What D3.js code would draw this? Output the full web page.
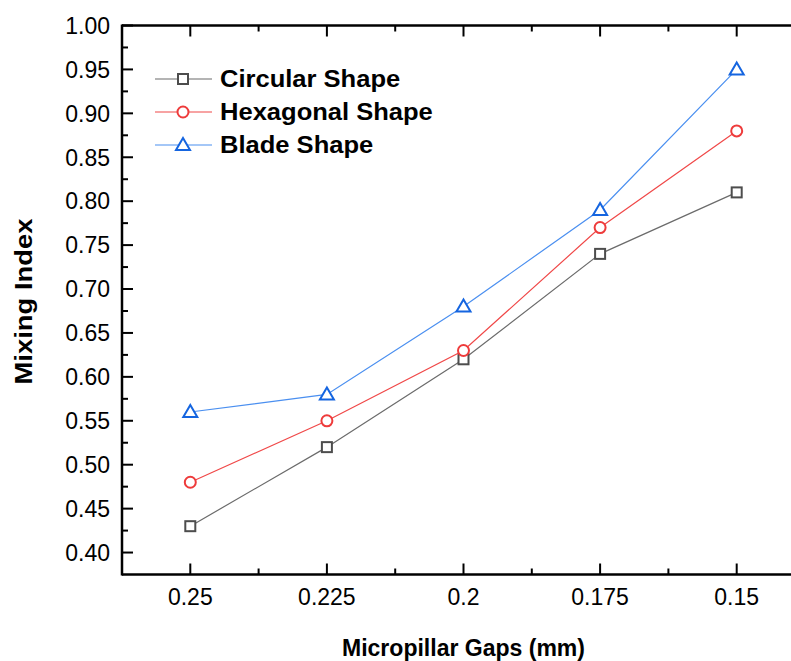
<!DOCTYPE html>
<html lang="en">
<head>
<meta charset="utf-8">
<title>Mixing Index</title>
<script src="https://d3js.org/d3.v7.min.js"></script>
<style>
  body { margin: 0; background: #fff; }
  text { font-family: "Liberation Sans", Arial, sans-serif; }
</style>
</head>
<body>
<script>
// data
var gaps = ["0.25", "0.225", "0.2", "0.175", "0.15"];
var circular = [0.43, 0.52, 0.62, 0.74, 0.81];
var hexagonal = [0.48, 0.55, 0.63, 0.77, 0.88];
var blade = [0.56, 0.58, 0.68, 0.79, 0.95];
var yTicks = [0.40, 0.45, 0.50, 0.55, 0.60, 0.65, 0.70, 0.75, 0.80, 0.85, 0.90, 0.95, 1.00];

var series = [
  {name: "Circular Shape", values: circular, line: "#6b6b6b", mark: "#4d4d4d", shape: "square"},
  {name: "Hexagonal Shape", values: hexagonal, line: "#f04848", mark: "#ee3b3b", shape: "circle"},
  {name: "Blade Shape", values: blade, line: "#4a8ff0", mark: "#1565e0", shape: "triangle"}
];

var W = 791, H = 661;
var mLeft = 122, mTop = 25.5, mBottom = 574.5, mRight = 805;

var svg = d3.select("body").append("svg")
  .attr("width", W).attr("height", H);

var x = d3.scaleLinear().domain([-0.5, 4.5]).range([mLeft, mRight]);
var y = d3.scaleLinear().domain([0.375, 1.0]).range([mBottom, mTop]);

// stretch a text horizontally by a factor (the original lettering is a bit wider)
function stretch(sel, k) {
  sel.each(function(){
    var w = this.getComputedTextLength();
    d3.select(this).attr("textLength", w * k).attr("lengthAdjust", "spacingAndGlyphs");
  });
}

// frame (left, top, bottom; right side is outside the window)
var ax = svg.append("g").attr("stroke", "#000").attr("stroke-width", 2.5);
ax.append("line").attr("x1", mLeft).attr("x2", mLeft).attr("y1", mTop - 1).attr("y2", mBottom + 1);
ax.append("line").attr("x1", mLeft).attr("x2", W + 5).attr("y1", mTop).attr("y2", mTop);
ax.append("line").attr("x1", mLeft).attr("x2", W + 5).attr("y1", mBottom).attr("y2", mBottom);

// y ticks (inward)
var yMinor = d3.range(0, 13).map(function(i){ return 0.375 + 0.05 * i; }).filter(function(v){ return v > 0.376 && v < 0.999; });
ax.selectAll(".ymaj").data(yTicks).enter().append("line")
  .attr("x1", mLeft).attr("x2", mLeft + 11)
  .attr("y1", function(d){ return y(d); }).attr("y2", function(d){ return y(d); })
  .attr("stroke-width", 2);
ax.selectAll(".ymin").data(yMinor).enter().append("line")
  .attr("x1", mLeft).attr("x2", mLeft + 6)
  .attr("y1", function(d){ return y(d); }).attr("y2", function(d){ return y(d); })
  .attr("stroke-width", 2);

svg.selectAll(".ylab").data(yTicks).enter().append("text")
  .attr("x", mLeft - 12).attr("y", function(d){ return y(d); })
  .attr("dy", "0.36em").attr("text-anchor", "end")
  .attr("font-size", 23).attr("fill", "#000")
  .text(function(d){ return d.toFixed(2); });

// x ticks (inward, top and bottom)
var xIdx = d3.range(gaps.length);
var xMinor = d3.range(gaps.length).map(function(i){ return i + 0.5; });
[mBottom, mTop].forEach(function(yy){
  var dir = yy === mBottom ? -1 : 1;
  ax.selectAll(null).data(xIdx).enter().append("line")
    .attr("x1", function(d){ return x(d); }).attr("x2", function(d){ return x(d); })
    .attr("y1", yy).attr("y2", yy + dir * 11).attr("stroke-width", 2);
  ax.selectAll(null).data(xMinor).enter().append("line")
    .attr("x1", function(d){ return x(d); }).attr("x2", function(d){ return x(d); })
    .attr("y1", yy).attr("y2", yy + dir * 6).attr("stroke-width", 2);
});

svg.selectAll(".xlab").data(gaps).enter().append("text")
  .attr("x", function(d, i){ return x(i); }).attr("y", 604.5)
  .attr("text-anchor", "middle").attr("font-size", 23).attr("fill", "#000")
  .text(function(d){ return d; });

// axis titles
svg.append("text").attr("x", 463.5).attr("y", 656)
  .attr("text-anchor", "middle").attr("font-size", 23).attr("font-weight", "bold")
  .attr("textLength", 243).attr("lengthAdjust", "spacingAndGlyphs")
  .text("Micropillar Gaps (mm)");
svg.append("text").attr("transform", "translate(32,301.5) rotate(-90)")
  .attr("text-anchor", "middle").attr("font-size", 24).attr("font-weight", "bold")
  .attr("textLength", 166).attr("lengthAdjust", "spacingAndGlyphs")
  .text("Mixing Index");

function drawMarker(g, shape, color, cx, cy) {
  if (shape === "square") {
    g.append("rect").attr("x", cx - 5).attr("y", cy - 5).attr("width", 10).attr("height", 10)
      .attr("fill", "#fff").attr("stroke", color).attr("stroke-width", 2);
  } else if (shape === "circle") {
    g.append("circle").attr("cx", cx).attr("cy", cy).attr("r", 5.5)
      .attr("fill", "#fff").attr("stroke", color).attr("stroke-width", 2);
  } else {
    g.append("path").attr("d", "M" + cx + "," + (cy - 7) + "L" + (cx + 7) + "," + (cy + 5) + "L" + (cx - 7) + "," + (cy + 5) + "Z")
      .attr("fill", "#fff").attr("stroke", color).attr("stroke-width", 2);
  }
}

var line = d3.line().x(function(d, i){ return x(i); }).y(function(d){ return y(d); });

series.forEach(function(s){
  var g = svg.append("g");
  g.append("path").datum(s.values).attr("d", line)
    .attr("fill", "none").attr("stroke", s.line).attr("stroke-width", 1.2);
  s.values.forEach(function(v, i){ drawMarker(g, s.shape, s.mark, x(i), y(v)); });
});

// legend
var legY = [79, 112, 145];
series.forEach(function(s, i){
  var g = svg.append("g");
  g.append("line").attr("x1", 155).attr("x2", 212).attr("y1", legY[i]).attr("y2", legY[i])
    .attr("stroke", s.line).attr("stroke-width", 1.2);
  drawMarker(g, s.shape, s.mark, 183, legY[i]);
  g.append("text").attr("x", 220).attr("y", legY[i]).attr("dy", "0.36em")
    .attr("font-size", 23).attr("font-weight", "bold").attr("fill", "#000")
    .text(s.name)
    .call(stretch, 1.11);
});
</script>
</body>
</html>
